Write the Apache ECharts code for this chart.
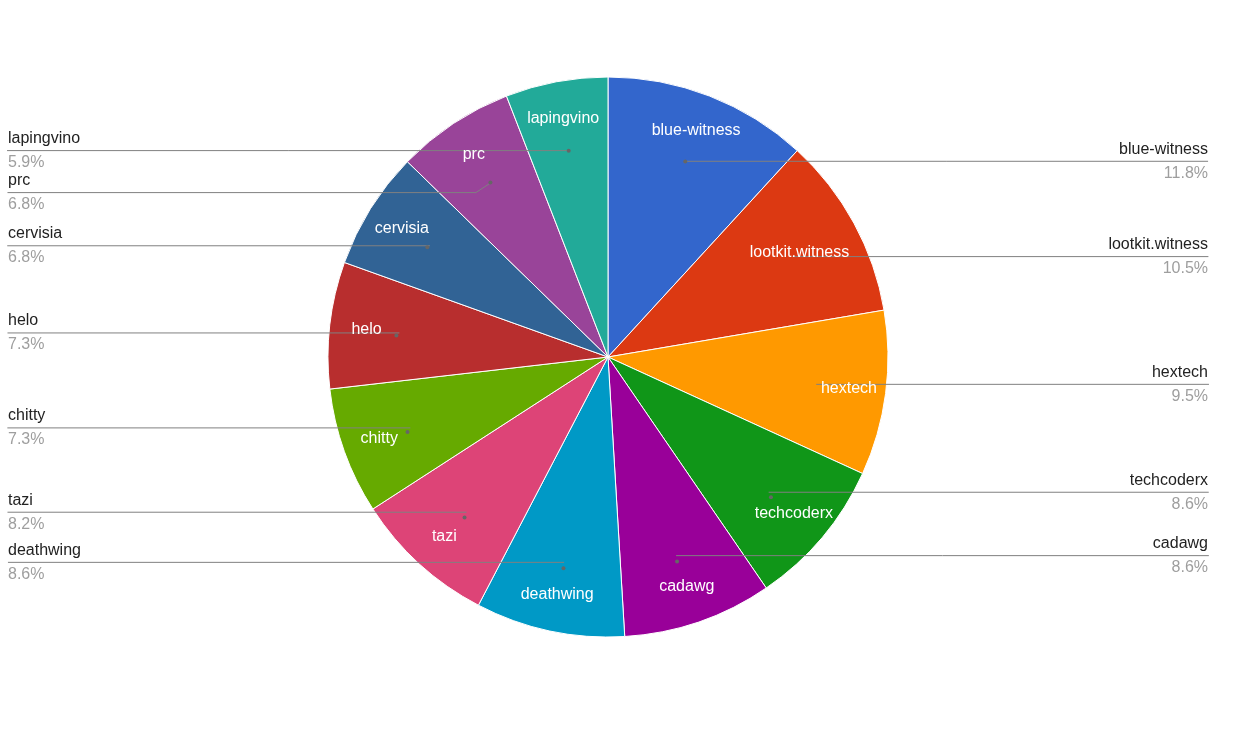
<!DOCTYPE html>
<html><head><meta charset="utf-8">
<script src="https://cdn.jsdelivr.net/npm/echarts@6/dist/echarts.min.js"></script>
<style>html,body{margin:0;padding:0;background:#fff}#c{width:1250px;height:750px}</style>
</head><body><div id="c"></div>
<script>
const categories = ['blue-witness','lootkit.witness','hextech','techcoderx','cadawg','deathwing','tazi','chitty','helo','cervisia','prc','lapingvino'];
const values = [11.8,10.5,9.5,8.6,8.6,8.6,8.2,7.3,7.3,6.8,6.8,5.9];
const colors = ['#3366cc','#dc3912','#ff9900','#109618','#990099','#0099c6','#dd4477','#66aa00','#b82e2e','#316395','#994499','#22aa99'];

const FONT = '"Liberation Sans", Arial, sans-serif';
const FS = 16;
const ctx = document.createElement('canvas').getContext('2d');
ctx.font = FS + 'px ' + FONT;
const pctText = v => v.toFixed(1) + '%';

const data = categories.map((n, i) => ({ name: n, value: values[i] }));
// outer labels: make the guide line run underneath the text up to the edge
const outerData = categories.map((n, i) => {
  const w = Math.max(ctx.measureText(n).width, ctx.measureText(pctText(values[i])).width);
  return { name: n, value: values[i], label: { distanceToLabelLine: -Math.ceil(w) } };
});

// inner labels: use the outer label ring when the text fits inside the pie, otherwise a smaller ring
const total = values.reduce((a, b) => a + b, 0);
let acc = 0;
const fits = categories.map((n, i) => {
  const mid = (acc + values[i] / 2) / total * 2 * Math.PI; acc += values[i];
  const r = 240, x = r * Math.sin(mid), y = -r * Math.cos(mid);
  const hw = ctx.measureText(n).width / 2, hh = 7;
  let ok = true;
  [-1, 1].forEach(sx => [-1, 1].forEach(sy => { if (Math.hypot(x + sx * hw, y + sy * hh) > 277) ok = false; }));
  return ok;
});
const innerA = categories.map((n, i) => ({ name: n, value: values[i], label: { show: fits[i] } }));
const innerB = categories.map((n, i) => ({ name: n, value: values[i], label: { show: !fits[i] } }));

const common = { type: 'pie', left: 8, right: 42, top: 0, bottom: 0, center: ['50%', 357],
  startAngle: 90, clockwise: true, animation: false, silent: true };
const innerLabel = { show: true, position: 'inside', fontSize: FS, fontFamily: FONT,
  formatter: p => '{t|' + p.name + '}',
  rich: { t: { color: '#fff', fontSize: FS, fontFamily: FONT } },
  textBorderWidth: 0, overflow: 'none' };

const chart = echarts.init(document.getElementById('c'), null, { renderer: 'canvas' });
chart.setOption({
  color: colors,
  backgroundColor: '#fff',
  series: [
    { ...common, z: 1, radius: 280, data,
      itemStyle: { borderColor: '#fff', borderWidth: 1 },
      label: { show: false }, labelLine: { show: false } },
    { ...common, z: 3, radius: 210, data: outerData,
      itemStyle: { color: 'transparent' },
      label: { show: true, position: 'outside', alignTo: 'edge', edgeDistance: 0,
        formatter: p => '{n|' + p.name + '}\n{p|' + pctText(p.value) + '}',
        rich: {
          n: { fontSize: FS, fontFamily: FONT, color: '#222', lineHeight: 24 },
          p: { fontSize: FS, fontFamily: FONT, color: '#9e9e9e', lineHeight: 24 }
        } },
      labelLine: { show: true, length: 0, length2: 30, smooth: false,
        lineStyle: { color: '#808080', width: 1 } } },
    { ...common, z: 4, radius: [205, 215], data, avoidLabelOverlap: false,
      itemStyle: { color: 'transparent' },
      label: { show: true, position: 'inside', formatter: '{d|}', padding: [6, 0, 0, 0],
        rich: { d: { width: 4, height: 4, lineHeight: 4, borderRadius: 2, backgroundColor: '#666' } } },
      labelLine: { show: false } },
    { ...common, z: 5, radius: [180, 300], data: innerA, avoidLabelOverlap: false,
      itemStyle: { color: 'transparent' }, label: innerLabel, labelLine: { show: false } },
    { ...common, z: 5, radius: [170, 260], data: innerB, avoidLabelOverlap: false,
      itemStyle: { color: 'transparent' }, label: innerLabel, labelLine: { show: false } }
  ]
});
</script></body></html>
